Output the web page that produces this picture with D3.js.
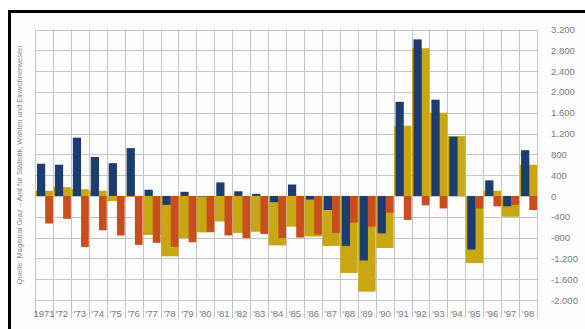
<!DOCTYPE html>
<html>
<head>
<meta charset="utf-8">
<script src="https://cdn.jsdelivr.net/npm/d3@7"></script>
<style>
  html, body { margin: 0; padding: 0; background: #fff; }
  svg { display: block; font-family: "Liberation Sans", Arial, sans-serif; }
</style>
</head>
<body>
<div class="container"></div>
<script>
// Werte (Einwohner)
var years = d3.range(1971, 1999);
var yearLabels = years.map(function (y) { return y === 1971 ? "1971" : "'" + String(y).slice(2); });
var blueValues = [620, 600, 1120, 750, 630, 920, 120, -170, 80, -10, 260, 90, 40, -120,
                  220, -70, -270, -960, -1240, -720, 1810, 3010, 1850, 1140, -1030, 300, -200, 880];
var oliveValues = [100, 170, 130, 100, -100, -20, -750, -1160, -810, -700, -490, -710, -690, -950,
                   -590, -780, -960, -1480, -1840, -1000, 1350, 2840, 1600, 1150, -1290, 100, -400, 600];
var orangeValues = [-530, -440, -980, -660, -760, -940, -900, -980, -890, -690, -760, -810, -730, -810,
                    -800, -740, -710, -510, -590, -320, -460, -180, -240, 0, -240, -200, -170, -270];
var yTicks = d3.range(-2000, 3201, 400);
var sourceText = "Quelle: Magistrat Graz \u2013 Amt f\u00fcr Statistik, Wahlen und Einwohnerwesen";

var SVG_WIDTH = 585, SVG_HEIGHT = 329;
var PLOT_LEFT = 35, PLOT_RIGHT = 537, PLOT_TOP = 29.5, PLOT_BOTTOM = 300;

document.addEventListener('DOMContentLoaded', function () {
    var svg = d3.select(".container").append("svg")
        .attr("width", SVG_WIDTH)
        .attr("height", SVG_HEIGHT);

    // Rahmen: nur oben und links sichtbar
    svg.append("rect")
        .attr("x", 9.5).attr("y", 11.5)
        .attr("width", 700).attr("height", 500)
        .attr("fill", "#fdfdfd")
        .attr("stroke", "#000")
        .attr("stroke-width", 3);

    var x = d3.scaleBand()
        .domain(years)
        .range([PLOT_LEFT, PLOT_RIGHT])
        .padding(0);

    var y = d3.scaleLinear()
        .domain([-2000, 3200])
        .range([PLOT_BOTTOM, PLOT_TOP]);

    var bw = x.bandwidth();

    // Gitter
    var grid = svg.append("g").attr("stroke", "#c4c4c4").attr("stroke-width", 1);
    grid.selectAll("line.h")
        .data(yTicks)
        .enter().append("line")
        .attr("class", "h")
        .attr("x1", PLOT_LEFT).attr("x2", PLOT_RIGHT)
        .attr("y1", function (d) { return Math.round(y(d)) + 0.5; })
        .attr("y2", function (d) { return Math.round(y(d)) + 0.5; });
    grid.selectAll("line.v")
        .data(years.concat([null]))
        .enter().append("line")
        .attr("class", "v")
        .attr("x1", function (d) { return Math.round(d === null ? PLOT_RIGHT : x(d)) + 0.5; })
        .attr("x2", function (d) { return Math.round(d === null ? PLOT_RIGHT : x(d)) + 0.5; })
        .attr("y1", PLOT_TOP).attr("y2", 318);

    function barY(v) { return Math.min(y(v), y(0)); }
    function barH(v) { return Math.abs(y(v) - y(0)); }

    // breite Balken (oliv) im Hintergrund
    svg.append("g").selectAll("rect")
        .data(oliveValues)
        .enter().append("rect")
        .attr("x", function (d, i) { return x(years[i]) + 0.5; })
        .attr("width", bw - 0.5)
        .attr("y", barY)
        .attr("height", barH)
        .attr("fill", "#c9a712");

    // schmale Balken links (blau)
    svg.append("g").selectAll("rect")
        .data(blueValues)
        .enter().append("rect")
        .attr("x", function (d, i) { return x(years[i]) + bw * 0.11; })
        .attr("width", bw * 0.46)
        .attr("y", barY)
        .attr("height", barH)
        .attr("fill", "#1b3d6f");

    // schmale Balken rechts (orange)
    svg.append("g").selectAll("rect")
        .data(orangeValues)
        .enter().append("rect")
        .attr("x", function (d, i) { return x(years[i]) + bw * 0.57; })
        .attr("width", bw * 0.43)
        .attr("y", barY)
        .attr("height", barH)
        .attr("fill", "#c94d1d");

    // rechte Achse mit deutschem Tausenderpunkt
    var de = d3.formatLocale({ decimal: ",", thousands: ".", grouping: [3], currency: ["", ""], minus: "-" });
    var yAxis = svg.append("g")
        .attr("transform", "translate(548,0)")
        .call(d3.axisRight(y)
            .tickValues(yTicks)
            .tickSize(0)
            .tickPadding(3)
            .tickFormat(de.format(",d")));
    yAxis.select(".domain").remove();
    yAxis.selectAll("text")
        .attr("fill", "#7a7a7a")
        .style("font-size", "9.5px");

    // Jahresbeschriftung
    var xAxis = svg.append("g")
        .attr("transform", "translate(0,307)")
        .call(d3.axisBottom(x)
            .tickSize(0)
            .tickPadding(3)
            .tickFormat(function (d, i) { return yearLabels[i]; }));
    xAxis.select(".domain").remove();
    xAxis.selectAll("text")
        .attr("fill", "#7a7a7a")
        .style("font-size", "9.5px");

    // Quelle, senkrecht
    svg.append("text")
        .attr("transform", "translate(21.5,165) rotate(-90)")
        .attr("text-anchor", "middle")
        .attr("fill", "#8a8a8a")
        .style("font-size", "7.5px")
        .text(sourceText);
});
</script>
</body>
</html>
